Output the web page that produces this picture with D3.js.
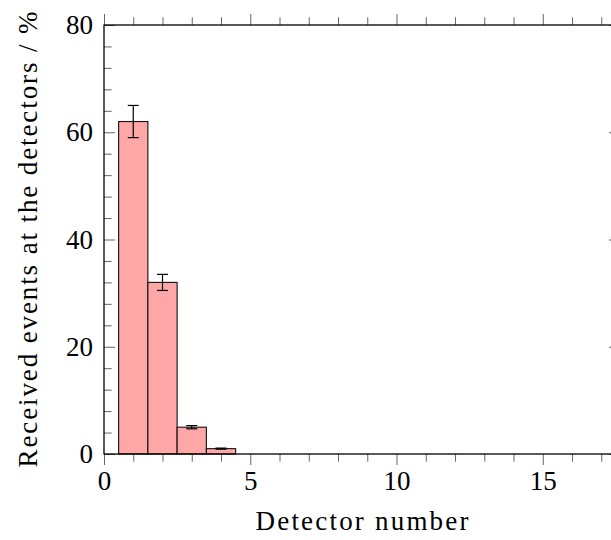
<!DOCTYPE html>
<html>
<head>
<meta charset="utf-8">
<script src="https://cdn.jsdelivr.net/npm/d3@7"></script>
</head>
<body style="margin:0">
<script>
// data
const detectors = [1, 2, 3, 4];
const events = [62, 32, 5, 1];
const errors = [3, 1.5, 0.3, 0.1];
const xTicks = [0, 5, 10, 15];
const yTicks = [0, 20, 40, 60, 80];
const xLabel = "Detector number";
const yLabel = "Received events at the detectors / %";

const fontFamily = "'Liberation Serif', 'Noto Serif CJK SC', serif";

const width = 611;
const height = 540;
const margins = { top: 25, right: -9, bottom: 86, left: 104 };
const boundedWidth = width - margins.left - margins.right;
const boundedHeight = height - margins.top - margins.bottom;

const svg = d3
	.select("body")
	.append("svg")
	.attr("width", width)
	.attr("height", height)
	.style("display", "block");

const bounds = svg
	.append("g")
	.attr("transform", `translate(${margins.left}, ${margins.top})`);

const xScale = d3.scaleLinear().domain([0, 17.64]).range([0, boundedWidth]);
const yScale = d3.scaleLinear().domain([0, 80]).range([boundedHeight, 0]);

const data = detectors.map((d, i) => ({ det: d, value: events[i], err: errors[i] }));

// bars, width one detector
bounds
	.selectAll(".bar")
	.data(data)
	.enter()
	.append("rect")
	.attr("class", "bar")
	.attr("x", (d) => xScale(d.det - 0.5))
	.attr("width", (d) => xScale(d.det + 0.5) - xScale(d.det - 0.5))
	.attr("y", (d) => yScale(d.value))
	.attr("height", (d) => boundedHeight - yScale(d.value))
	.attr("fill", "#ffa6a6")
	.attr("stroke", "#111")
	.attr("stroke-width", 1.1);

// error bars
const capHalf = 5.5;
const errG = bounds.selectAll(".err").data(data).enter().append("g").attr("class", "err")
	.attr("stroke", "#000").attr("stroke-width", 1.2);
errG.append("line")
	.attr("x1", (d) => xScale(d.det)).attr("x2", (d) => xScale(d.det))
	.attr("y1", (d) => yScale(d.value + d.err)).attr("y2", (d) => yScale(d.value - d.err));
errG.append("line")
	.attr("x1", (d) => xScale(d.det) - capHalf).attr("x2", (d) => xScale(d.det) + capHalf)
	.attr("y1", (d) => yScale(d.value + d.err)).attr("y2", (d) => yScale(d.value + d.err));
errG.append("line")
	.attr("x1", (d) => xScale(d.det) - capHalf).attr("x2", (d) => xScale(d.det) + capHalf)
	.attr("y1", (d) => yScale(d.value - d.err)).attr("y2", (d) => yScale(d.value - d.err));

// axes: major/minor ticks, x outside, y inside
const minorX = d3.range(0, 18, 1).filter((v) => v % 5 !== 0);
const minorY = d3.range(0, 81, 4).filter((v) => v % 20 !== 0);
const majorLen = 11;
const minorLen = 7.7;

function styleAxis(g) {
	g.select(".domain").remove();
	g.attr("font-family", null);
	g.selectAll(".tick line").attr("stroke", "#666").attr("stroke-width", 1);
	g.selectAll(".tick text")
		.attr("fill", "#000")
		.attr("font-size", 27)
		.style("font-family", fontFamily);
}

bounds.append("g")
	.attr("transform", `translate(0, ${boundedHeight})`)
	.call(d3.axisBottom(xScale).tickValues(xTicks).tickSize(majorLen).tickPadding(6).tickFormat(d3.format("d")))
	.call(styleAxis);
bounds.append("g")
	.attr("transform", `translate(0, ${boundedHeight})`)
	.call(d3.axisBottom(xScale).tickValues(minorX).tickSize(minorLen).tickFormat(""))
	.call(styleAxis);
bounds.append("g")
	.call(d3.axisTop(xScale).tickValues(xTicks).tickSize(majorLen).tickFormat(""))
	.call(styleAxis);
bounds.append("g")
	.call(d3.axisTop(xScale).tickValues(minorX).tickSize(minorLen).tickFormat(""))
	.call(styleAxis);

bounds.append("g")
	.call(d3.axisLeft(yScale).tickValues(yTicks).tickSize(-majorLen).tickPadding(11).tickFormat(d3.format("d")))
	.call(styleAxis);
bounds.append("g")
	.call(d3.axisLeft(yScale).tickValues(minorY).tickSize(-minorLen).tickFormat(""))
	.call(styleAxis);
bounds.append("g")
	.attr("transform", `translate(${boundedWidth}, 0)`)
	.call(d3.axisRight(yScale).tickValues(yTicks).tickSize(-majorLen).tickFormat(""))
	.call(styleAxis);
bounds.append("g")
	.attr("transform", `translate(${boundedWidth}, 0)`)
	.call(d3.axisRight(yScale).tickValues(minorY).tickSize(-minorLen).tickFormat(""))
	.call(styleAxis);

// frame
bounds.append("rect")
	.attr("x", 0).attr("y", 0)
	.attr("width", boundedWidth).attr("height", boundedHeight)
	.attr("fill", "none")
	.attr("stroke", "#000")
	.attr("stroke-width", 1.3);

// axis labels
svg.append("text")
	.attr("x", margins.left + boundedWidth / 2)
	.attr("y", 530)
	.attr("text-anchor", "middle")
	.attr("textLength", 213)
	.attr("lengthAdjust", "spacing")
	.attr("font-size", 27)
	.style("font-family", fontFamily)
	.text(xLabel);

svg.append("text")
	.attr("transform", `translate(37, ${margins.top + boundedHeight / 2}) rotate(-90)`)
	.attr("text-anchor", "middle")
	.attr("textLength", 456)
	.attr("lengthAdjust", "spacing")
	.attr("font-size", 27)
	.style("font-family", fontFamily)
	.text(yLabel);
</script>
</body>
</html>
